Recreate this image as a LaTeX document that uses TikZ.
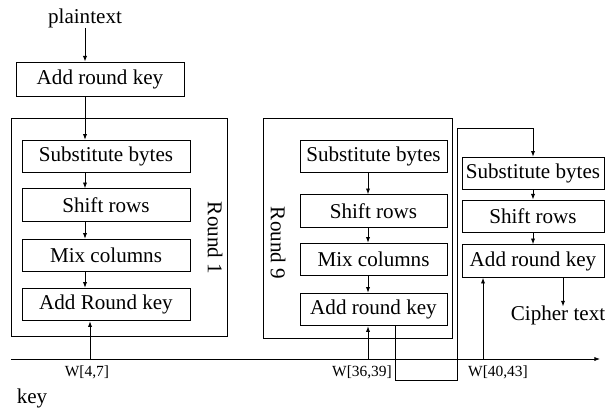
\documentclass[tikz,border=0pt]{standalone}
\usepackage{fontspec}
\setmainfont{Liberation Serif}
\usetikzlibrary{arrows.meta}

\begin{document}
\begin{tikzpicture}[x=0.025cm, y=-0.025cm, line width=0.6pt,
	>={Latex[length=4pt,width=3pt]},
	txt/.style={font=\fontsize{15}{18}\selectfont, inner sep=0pt},
	lbl/.style={font=\fontsize{11}{13}\selectfont, inner sep=0pt},
	stage/.style={draw, txt, minimum height=0.82cm}]
	\useasboundingbox (0,0) rectangle (605,408);

	% input and first key addition
	\node[txt] (plain) at (85,18) {plaintext};
	\node[stage, minimum width=4.2cm, minimum height=0.85cm] (ark0) at (100,79) {Add round key};
	\draw[->] (plain.south) -- (plain |- ark0.north);

	% round 1
	\draw (11,118) rectangle (227,336);
	\node[txt, rotate=-90] (r1) at (215,238) {Round 1};
	\node[stage, minimum width=4.2cm] (sub1) at (106,156.5) {Substitute bytes};
	\node[stage, minimum width=4.2cm] (shr1) at (106,205) {Shift rows};
	\node[stage, minimum width=4.2cm] (mix1) at (106,255.5) {Mix columns};
	\node[stage, minimum width=4.2cm] (add1) at (106,304.5) {Add Round key};
	\draw[->] (ark0.south -| plain) -- (sub1.north -| plain);
	\draw[->] (sub1.south -| plain) -- (shr1.north -| plain);
	\draw[->] (shr1.south -| plain) -- (mix1.north -| plain);
	\draw[->] (mix1.south -| plain) -- (add1.north -| plain);

	% round 9
	\coordinate (c9) at (368,0);
	\draw (263,118) rectangle (452,338);
	\node[txt, rotate=-90] (r9) at (278,243) {Round 9};
	\node[stage, minimum width=3.675cm] (sub9) at (373.5,156.5) {Substitute bytes};
	\node[stage, minimum width=3.675cm] (shr9) at (373.5,211) {Shift rows};
	\node[stage, minimum width=3.675cm] (mix9) at (373.5,259.5) {Mix columns};
	\node[stage, minimum width=3.675cm] (add9) at (373.5,309.5) {Add round key};
	\draw[->] (sub9.south -| c9) -- (shr9.north -| c9);
	\draw[->] (shr9.south -| c9) -- (mix9.north -| c9);
	\draw[->] (mix9.south -| c9) -- (add9.north -| c9);

	% final round
	\node[stage, minimum width=3.55cm] (sub10) at (533,173.5) {Substitute bytes};
	\node[stage, minimum width=3.55cm, minimum height=0.8cm] (shr10) at (533,216) {Shift rows};
	\node[stage, minimum width=3.55cm] (add10) at (533,261) {Add round key};
	\draw[->] (sub10) -- (shr10);
	\draw[->] (shr10) -- (add10);
	\node[txt] (cipher) at (558,315) {Cipher text};
	\coordinate (cx) at (563,0);
	\draw[->] (add10.south -| cx) -- ([yshift=-1pt]cipher.north -| cx);

	% loop from round 9 into the last round
	\coordinate (lp1) at (395,380);
	\coordinate (lp2) at (457,380);
	\coordinate (lp3) at (457,128);
	\draw[->] (add9.south -| lp1) -- (lp1) -- (lp2) -- (lp3) -- (lp3 -| sub10) -- (sub10.north);

	% key schedule
	\coordinate (ks) at (11,359);
	\coordinate (ke) at (600,359);
	\draw[->] (ks) -- (ke);
	\coordinate (k1) at (90,359);
	\coordinate (k9) at (368,359);
	\coordinate (k10) at (483,359);
	\draw[->] (k1) -- (k1 |- add1.south);
	\draw[->] (k9) -- (k9 |- add9.south);
	\draw[->] (k10) -- (k10 |- add10.south);
	\node[lbl] (w1) at (87,372) {W[4,7]};
	\node[lbl] (w9) at (362,372) {W[36,39]};
	\node[lbl] (w10) at (498,372) {W[40,43]};
	\node[txt] (key) at (32,398) {key};
\end{tikzpicture}
\end{document}
